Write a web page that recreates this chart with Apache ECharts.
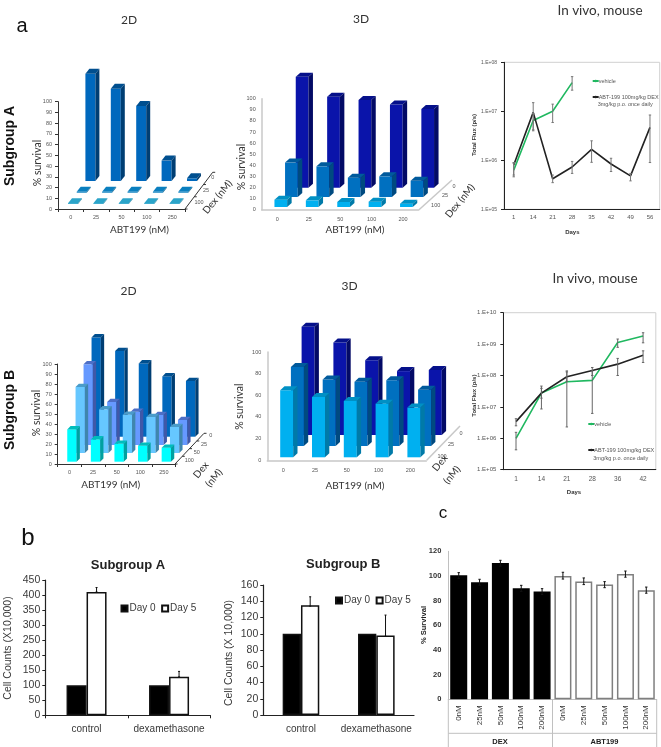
<!DOCTYPE html>
<html>
<head>
<meta charset="utf-8">
<title>Subgroup A and B survival</title>
<script src="https://cdn.jsdelivr.net/npm/echarts@6/dist/echarts.min.js"></script>
<style>
  html, body { margin: 0; padding: 0; background: #fff; }
  #chart { width: 661px; height: 747px; }
</style>
</head>
<body>
<div id="chart"></div>
<script>
// panel a, 3D style bars: one array per Dex row, back row first
const abtDoses250 = ['0', '25', '50', '100', '250']
const abtDoses200 = ['0', '25', '50', '100', '200']

const a2dDex0 = [100, 86, 70, 19, 2.5]
const a2dDex25 = [0.8, 0.8, 0.8, 0.8, 0.8]
const a2dDex100 = [0.8, 0.8, 0.8, 0.8, 0.8]

const a3dDex0 = [100, 82, 79, 75, 71]
const a3dDex25 = [31, 27.6, 17.4, 18.6, 14.7]
const a3dDex100 = [6.6, 6, 4.5, 4.8, 3]

const b2dDex0 = [99.3, 85.7, 73.3, 60.3, 55.7]
const b2dDex25 = [80.7, 43, 33.3, 30, 25]
const b2dDex50 = [66, 43.7, 38.3, 36, 26]
const b2dDex100 = [32.3, 22.3, 18, 16, 14]

const b3dDex0 = [100, 85.5, 69, 59, 60]
const b3dDex25 = [73, 61.5, 59.4, 60.6, 52]
const b3dDex100 = [62, 55.7, 52, 49.5, 45.9]

// in vivo flux, subgroup A
const fluxDaysA = ['1', '14', '21', '28', '35', '42', '49', '56']
const vehicleA = [6.3e5, 6.5e6, 1e7, 3.85e7]
const vehicleALow = [4.6e5, 4e6, 5.9e6, 2.7e7]
const vehicleAHigh = [8.7e5, 9e6, 1.4e7, 5.1e7]
const treatedA = [8e5, 9.5e6, 4.2e5, 7.3e5, 1.67e6, 8.4e5, 4.8e5, 4.7e6]
const treatedALow = [5e5, 4.2e6, 3.5e5, 5.4e5, 9.1e5, 5.9e5, 3.8e5, 9e5]
const treatedAHigh = [9e5, 1.5e7, 5e5, 9.5e5, 2.5e6, 1.1e6, 5.4e5, 8.4e6]

// in vivo flux, subgroup B
const fluxDaysB = ['1', '14', '21', '28', '36', '42']
const vehicleB = [1e6, 2.75e7, 6.3e7, 7e7, 1.13e9, 1.8e9]
const vehicleBLow = [4.3e5, 8.6e6, 2.3e6, 6.2e6, 7.9e8, 1.1e9]
const vehicleBHigh = [1.55e6, 4.6e7, 1.4e8, 1.4e8, 1.45e9, 2.3e9]
const treatedB = [3.4e6, 2.75e7, 9.1e7, 1.45e8, 2.3e8, 4.4e8]
const treatedBLow = [2.5e6, 1.9e7, 6.5e7, 1e8, 1e8, 2.6e8]
const treatedBHigh = [4.2e6, 3.9e7, 1.3e8, 1.8e8, 3.5e8, 6.1e8]

// panel b
const treatments = ['control', 'dexamethasone']
const countsADay0 = [100, 100]
const countsADay5 = [410, 128]
const countsADay5High = [425, 146]
const countsBDay0 = [100, 100]
const countsBDay5 = [135, 98]
const countsBDay5Low = [134, 96.8]
const countsBDay5High = [145.5, 123]

// panel c
const doseLabels = ['0nM', '25nM', '50nM', '100nM', '200nM', '0nM', '25nM', '50nM', '100nM', '200nM']
const survivalDex = [100.5, 95, 110.5, 90, 87.5, null, null, null, null, null]
const survivalAbt = [null, null, null, null, null, 100, 95.5, 93, 101.5, 88.5]
const survivalLow = [98, 92.5, 108, 87.5, 85, 97.5, 93, 90.5, 99, 86]
const survivalHigh = [102.7, 97.3, 112.7, 92.4, 89.7, 103, 98.4, 95.4, 104, 91]

const ARIAL = '"Liberation Sans", Arial, sans-serif'
const CALIBRI = 'Lato, "Noto Sans", sans-serif'
const INK = '#3a3a3a'

const blue2d = { front: '#0068bd', top: '#004f8f', side: '#003e73' }
const paleBlue2d = { front: '#0a7fbf', top: '#0a7fbf', side: '#055d8c' }
const teal2d = { front: '#2ba4c9', top: '#2ba4c9', side: '#1a7f9e' }
const navy3d = { front: '#0a14aa', top: '#05108a', side: '#030a66' }
const mid3d = { front: '#0070c0', top: '#005a9c', side: '#004a80' }
const sky3d = { front: '#00b0f0', top: '#0090c4', side: '#007aa8' }
const periwinkle = { front: '#6699ff', top: '#4d6fc7', side: '#4058a8' }
const lightBlue = { front: '#66c7ff', top: '#4a9cca', side: '#3f86ad' }
const cyan = { front: '#00ffff', top: '#00bdbd', side: '#00a0a0' }

const grids = [
  { left: 58, top: 101.7, width: 127, height: 107.3 },
  { left: 261.7, top: 98.7, width: 157, height: 111 },
  { left: 504, top: 62.3, width: 155.7, height: 147, show: true, borderColor: '#d0d0d0', borderWidth: 1 },
  { left: 57.7, top: 364, width: 118, height: 100 },
  { left: 267.3, top: 352, width: 159, height: 108.3 },
  { left: 503.3, top: 312.7, width: 152.5, height: 157, show: true, borderColor: '#d0d0d0', borderWidth: 1 },
  { left: 45.3, top: 580, width: 165, height: 135.3 },
  { left: 263.3, top: 585, width: 150.7, height: 130 },
  { left: 448.3, top: 551.3, width: 208.4, height: 148 }
]

const plainLabel = (size, margin, color = INK) => ({ fontFamily: ARIAL, fontSize: size, color, margin, interval: 0 })
const solidAxis = (color, width) => ({ show: true, lineStyle: { color, width } })

const catAxis = (gridIndex, data, label, line, tick = false) => ({
  type: 'category', gridIndex, data, axisLabel: label, axisLine: line,
  axisTick: { show: tick, lineStyle: { color: line.lineStyle.color }, length: 3 },
  splitLine: { show: false }
})

const valAxis = (gridIndex, max, interval, label, line, tick = true) => ({
  type: 'value', gridIndex, min: 0, max, interval, axisLabel: label, axisLine: line,
  axisTick: { show: tick, lineStyle: { color: line.lineStyle.color }, length: 3 },
  splitLine: { show: false }
})

const fluxLabel = value => '1.E+' + String(Math.round(Math.log10(value))).padStart(2, '0')
const logAxis = (gridIndex, min, max, size) => ({
  type: 'log', logBase: 10, gridIndex, min, max,
  axisLabel: { fontFamily: ARIAL, fontSize: size, color: '#555', margin: 7, formatter: fluxLabel },
  axisLine: solidAxis('#222', 1),
  axisTick: { show: true, length: 3, lineStyle: { color: '#222' } },
  minorTick: { show: false },
  splitLine: { show: false }
})

const xAxes = [
  catAxis(0, abtDoses250, plainLabel(5.5, 5, '#555'), solidAxis('#333', 1), true),
  catAxis(1, abtDoses200, plainLabel(5.5, 7, '#555'), solidAxis('#c8c8c8', 1.5)),
  catAxis(2, fluxDaysA, plainLabel(6, 5, '#555'), solidAxis('#222', 1)),
  catAxis(3, abtDoses250, plainLabel(5.5, 5, '#555'), solidAxis('#333', 1), true),
  catAxis(4, abtDoses200, plainLabel(5.5, 7, '#555'), solidAxis('#c8c8c8', 1.5)),
  catAxis(5, fluxDaysB, plainLabel(6.5, 6, '#555'), solidAxis('#222', 1)),
  catAxis(6, treatments, plainLabel(10, 9), solidAxis('#222', 1.2), true),
  catAxis(7, treatments, plainLabel(10, 9), solidAxis('#222', 1.2)),
  catAxis(8, doseLabels, { ...plainLabel(8, 6, '#333'), rotate: 90 }, solidAxis('#c0c0c0', 1))
]

const yAxes = [
  valAxis(0, 100, 10, plainLabel(5.5, 6, '#555'), solidAxis('#333', 1)),
  valAxis(1, 100, 10, plainLabel(5.5, 6, '#555'), solidAxis('#c8c8c8', 1.5), false),
  logAxis(2, 1e5, 1e8, 5),
  valAxis(3, 100, 10, plainLabel(5.5, 6, '#555'), solidAxis('#333', 1)),
  valAxis(4, 100, 20, plainLabel(5.5, 6, '#555'), solidAxis('#c8c8c8', 1.5), false),
  logAxis(5, 1e5, 1e10, 6),
  valAxis(6, 450, 50, plainLabel(10.5, 5), solidAxis('#222', 1.2)),
  valAxis(7, 160, 20, plainLabel(10.5, 5), solidAxis('#222', 1.2)),
  valAxis(8, 120, 20, { ...plainLabel(7.5, 7, '#333'), fontWeight: 'bold' }, solidAxis('#c0c0c0', 1), false)
]

// rows go back to front, shifts push each row up and right into the fake depth
const bars3d = (gridIndex, rows, barWidth, depthX, depthY) => {
  const data = []
  rows.forEach((row, rowIndex) => {
    row.values.forEach((value, doseIndex) => data.push([doseIndex, rowIndex, value]))
  })
  return {
    type: 'custom',
    name: 'survival ' + gridIndex,
    xAxisIndex: gridIndex,
    yAxisIndex: gridIndex,
    encode: { x: 0, y: 2 },
    data,
    renderItem: (params, api) => {
      const row = rows[api.value(1)]
      const base = api.coord([api.value(0), 0])
      const top = api.coord([api.value(0), api.value(2)])
      const left = base[0] + row.shift[0] - barWidth / 2
      const right = left + barWidth
      const bottom = base[1] + row.shift[1]
      const upper = top[1] + row.shift[1]
      return {
        type: 'group',
        children: [
          { type: 'rect', shape: { x: left, y: upper, width: barWidth, height: bottom - upper }, style: { fill: row.colors.front } },
          { type: 'polygon', shape: { points: [[left, upper], [right, upper], [right + depthX, upper - depthY], [left + depthX, upper - depthY]] }, style: { fill: row.colors.top } },
          { type: 'polygon', shape: { points: [[right, upper], [right + depthX, upper - depthY], [right + depthX, bottom - depthY], [right, bottom]] }, style: { fill: row.colors.side } }
        ]
      }
    }
  }
}

const errorBars = (gridIndex, lows, highs, color, capHalf = 1.2, offset = 0) => ({
  type: 'custom',
  name: 'error ' + gridIndex,
  xAxisIndex: gridIndex,
  yAxisIndex: gridIndex,
  encode: { x: 0, y: [1, 2] },
  z: 5,
  data: lows.map((low, i) => [i, low, highs[i]]),
  renderItem: (params, api) => {
    const low = api.coord([api.value(0), api.value(1)])
    const high = api.coord([api.value(0), api.value(2)])
    const x = low[0] + offset
    const stroke = { stroke: color, lineWidth: 1 }
    return {
      type: 'group',
      children: [
        { type: 'line', shape: { x1: x, y1: low[1], x2: x, y2: high[1] }, style: stroke },
        { type: 'line', shape: { x1: x - capHalf, y1: low[1], x2: x + capHalf, y2: low[1] }, style: stroke },
        { type: 'line', shape: { x1: x - capHalf, y1: high[1], x2: x + capHalf, y2: high[1] }, style: stroke }
      ]
    }
  }
})

const fluxLine = (gridIndex, name, values, color) => ({
  type: 'line', name, xAxisIndex: gridIndex, yAxisIndex: gridIndex, data: values,
  symbol: 'none', z: 4, lineStyle: { color, width: 1.6 }, itemStyle: { color }
})

const countBar = (gridIndex, name, values, fill, width) => ({
  type: 'bar', name, xAxisIndex: gridIndex, yAxisIndex: gridIndex, data: values,
  barWidth: width, barGap: 0,
  itemStyle: { color: fill, borderColor: '#111', borderWidth: 1.5 }
})

const survivalBar = (name, values, fill, border) => ({
  type: 'bar', name, xAxisIndex: 8, yAxisIndex: 8, data: values,
  barWidth: 17, barGap: '-100%',
  itemStyle: { color: fill, borderColor: border, borderWidth: 1.5 }
})

const GREEN = '#20b860'
const BLACK = '#222222'
const VEHICLE = 'vehicle'
const TREATED = 'ABT-199 100mg/kg DEX'

const series = [
  bars3d(0, [
    { values: a2dDex0, colors: blue2d, shift: [19.7, -28] },
    { values: a2dDex25, colors: paleBlue2d, shift: [11, -16.3] },
    { values: a2dDex100, colors: teal2d, shift: [2.3, -5] }
  ], 10, 4, 5),
  bars3d(1, [
    { values: a3dDex0, colors: navy3d, shift: [24.7, -22] },
    { values: a3dDex25, colors: mid3d, shift: [14, -12.7] },
    { values: a3dDex100, colors: sky3d, shift: [3.4, -2.7] }
  ], 12.7, 4.5, 4),
  bars3d(3, [
    { values: b2dDex0, colors: blue2d, shift: [26.7, -27.3] },
    { values: b2dDex25, colors: periwinkle, shift: [18.7, -19] },
    { values: b2dDex50, colors: lightBlue, shift: [10.7, -11] },
    { values: b2dDex100, colors: cyan, shift: [2.4, -2.3] }
  ], 9.3, 3.3, 3.3),
  bars3d(4, [
    { values: b3dDex0, colors: navy3d, shift: [24.9, -25.3] },
    { values: b3dDex25, colors: mid3d, shift: [14.2, -14.3] },
    { values: b3dDex100, colors: sky3d, shift: [3.5, -3] }
  ], 13, 4.3, 4),

  fluxLine(2, VEHICLE, vehicleA, GREEN),
  fluxLine(2, TREATED, treatedA, BLACK),
  errorBars(2, vehicleALow, vehicleAHigh, '#777'),
  errorBars(2, treatedALow, treatedAHigh, '#777'),

  fluxLine(5, VEHICLE, vehicleB, GREEN),
  fluxLine(5, TREATED, treatedB, BLACK),
  errorBars(5, vehicleBLow, vehicleBHigh, '#666'),
  errorBars(5, treatedBLow, treatedBHigh, '#666'),

  countBar(6, 'Day 0', countsADay0, '#000', 20),
  countBar(6, 'Day 5', countsADay5, '#fff', 20),
  errorBars(6, countsADay5, countsADay5High, '#111', 1, 10),

  countBar(7, 'Day 0', countsBDay0, '#000', 18.3),
  countBar(7, 'Day 5', countsBDay5, '#fff', 18.3),
  errorBars(7, countsBDay5Low, countsBDay5High, '#111', 1, 9.2),

  survivalBar('DEX', survivalDex, '#000', '#000'),
  survivalBar('ABT199', survivalAbt, '#fff', '#7f7f7f'),
  errorBars(8, survivalLow, survivalHigh, '#111', 1.2)
]

const lineLegend = (name, left, top, size) => ({
  data: [name], left, top, padding: 0, itemWidth: 6, itemHeight: 3, selectedMode: false,
  textStyle: { fontFamily: ARIAL, fontSize: size, color: '#555', padding: [0, 0, 0, -5] }
})

const dayLegend = (left, top) => ({
  data: ['Day 0', 'Day 5'], left, top, padding: 0, orient: 'horizontal',
  itemWidth: 6, itemHeight: 6, itemGap: 5.5, selectedMode: false, icon: 'rect',
  textStyle: { fontFamily: ARIAL, fontSize: 10, color: INK, padding: [0, 0, 0, -3] }
})

const legends = [
  lineLegend(VEHICLE, 591.7, 78, 5.5),
  lineLegend(TREATED, 591.7, 94, 5.5),
  lineLegend(VEHICLE, 587.3, 421, 5.5),
  lineLegend(TREATED, 587.3, 447, 5.5),
  dayLegend(120.5, 603.5),
  dayLegend(335, 595.5)
]

const text = (value, x, y, size, opts = {}) => ({
  type: 'text', x, y, rotation: opts.rotation || 0, silent: true, z: 10,
  style: {
    text: value, fontFamily: opts.font || CALIBRI, fontSize: size,
    fontWeight: opts.weight || 'normal', fill: opts.color || '#333',
    align: opts.align || 'center', verticalAlign: 'middle'
  }
})

const rule = (x1, y1, x2, y2, color, lineWidth = 1) => ({
  type: 'line', silent: true, shape: { x1, y1, x2, y2 }, style: { stroke: color, lineWidth }
})

// short ticks along a depth axis, one per row boundary
const depthTicks = (x1, y1, x2, y2, rows, color) => {
  const ticks = []
  for (let i = 0; i <= rows; i++) {
    const x = x1 + (x2 - x1) * i / rows
    const y = y1 + (y2 - y1) * i / rows
    ticks.push(rule(x, y, x + 2.5, y, color))
  }
  return ticks
}

const UP = Math.PI / 2
const SLOPE = 0.88
const tickText = { font: ARIAL, color: '#555' }

const decorations = [
  text('a', 22, 26, 20, { font: ARIAL, color: '#111' }),
  text('b', 28, 538, 24, { font: ARIAL, color: '#111' }),
  text('c', 443, 513, 17, { font: ARIAL, color: '#111' }),

  text('2D', 129, 20, 12),
  text('3D', 361, 19, 12),
  text('In vivo, mouse', 600, 11, 13.5),
  text('2D', 128.6, 290.7, 12),
  text('3D', 349.6, 285.7, 12),
  text('In vivo, mouse', 595, 278.6, 13.5),

  text('Subgroup A', 10, 146, 14, { font: ARIAL, weight: 'bold', rotation: UP, color: '#111' }),
  text('Subgroup B', 10, 410, 14, { font: ARIAL, weight: 'bold', rotation: UP, color: '#111' }),

  // a, 2D
  text('% survival', 38, 163, 10.5, { rotation: UP }),
  text('ABT199 (nM)', 139.5, 230, 10),
  rule(185, 209, 212.7, 172.3, '#333'),
  ...depthTicks(185, 209, 212.7, 172.3, 3, '#333'),
  text('100', 199, 202.5, 5.5, tickText),
  text('25', 206, 190.7, 5.5, tickText),
  text('0', 212.7, 177.7, 5.5, tickText),
  text('Dex (nM)', 217.5, 197, 10, { rotation: SLOPE }),

  // a, 3D
  text('% survival', 241.7, 167, 10.5, { rotation: UP }),
  text('ABT199 (nM)', 355, 230, 10),
  rule(419, 209.7, 452, 180, '#c8c8c8', 1.5),
  text('100', 435.7, 205.7, 5.5, tickText),
  text('25', 445, 195.7, 5.5, tickText),
  text('0', 454, 186, 5.5, tickText),
  text('Dex (nM)', 460, 201, 10, { rotation: SLOPE }),

  // a, vehicle and treated flux
  text('Total Flux (p/s)', 474, 135, 6, { font: ARIAL, weight: 'bold', rotation: UP }),
  text('Days', 572.3, 232.3, 6, { font: ARIAL, weight: 'bold' }),
  text('3mg/kg p.o. once daily', 597.7, 104.3, 5.5, { font: ARIAL, align: 'left', color: '#555' }),

  // a second row, 2D
  text('% survival', 36.7, 413, 10.5, { rotation: UP }),
  text('ABT199 (nM)', 110.7, 485, 10),
  rule(175, 464, 204, 433.3, '#333'),
  ...depthTicks(175, 464, 204, 433.3, 4, '#333'),
  text('100', 189.3, 460.3, 5.5, tickText),
  text('50', 196.7, 452, 5.5, tickText),
  text('25', 204, 444, 5.5, tickText),
  text('0', 210.7, 435.7, 5.5, tickText),
  text('Dex', 201, 470, 10, { rotation: SLOPE }),
  text('(nM)', 214, 478, 10, { rotation: SLOPE }),

  // a second row, 3D
  text('% survival', 240, 406.7, 10.5, { rotation: UP }),
  text('ABT199 (nM)', 355, 485.7, 10),
  rule(426.7, 460.3, 460, 426, '#c8c8c8', 1.5),
  text('100', 442, 456, 5.5, tickText),
  text('25', 451, 444, 5.5, tickText),
  text('0', 461, 433, 5.5, tickText),
  text('Dex', 440, 463, 10, { rotation: SLOPE }),
  text('(nM)', 452, 475, 10, { rotation: SLOPE }),

  // a second row, flux
  text('Total Flux (p/s)', 474, 395.7, 6, { font: ARIAL, weight: 'bold', rotation: UP }),
  text('Days', 574, 492.7, 6, { font: ARIAL, weight: 'bold' }),
  text('3mg/kg p.o. once daily', 593.3, 458, 5.5, { font: ARIAL, align: 'left', color: '#555' }),

  // b
  text('Subgroup A', 128, 565, 13, { font: ARIAL, weight: 'bold', color: '#222' }),
  text('Cell Counts (X10,000)', 8.3, 648, 10.5, { font: ARIAL, rotation: UP, color: INK }),
  text('Subgroup B', 343.3, 564.3, 13, { font: ARIAL, weight: 'bold', color: '#222' }),
  text('Cell Counts (X 10,000)', 229, 653, 10.5, { font: ARIAL, rotation: UP, color: INK }),

  // c
  text('% Survival', 424, 625, 7.5, { font: ARIAL, weight: 'bold', rotation: UP, color: '#222' }),
  rule(448.3, 699.3, 448.3, 747, '#c0c0c0'),
  rule(552.5, 699.3, 552.5, 747, '#c0c0c0'),
  rule(656.7, 699.3, 656.7, 747, '#c0c0c0'),
  rule(448.3, 733.3, 656.7, 733.3, '#c0c0c0'),
  text('DEX', 500, 741.5, 7.5, { font: ARIAL, weight: 'bold', color: '#222' }),
  text('ABT199', 604.5, 741.5, 7.5, { font: ARIAL, weight: 'bold', color: '#222' })
]

const chart = echarts.init(document.getElementById('chart'))
chart.setOption({
  animation: false,
  backgroundColor: '#fff',
  grid: grids,
  xAxis: xAxes,
  yAxis: yAxes,
  legend: legends,
  series,
  graphic: decorations
})
</script>
</body>
</html>
